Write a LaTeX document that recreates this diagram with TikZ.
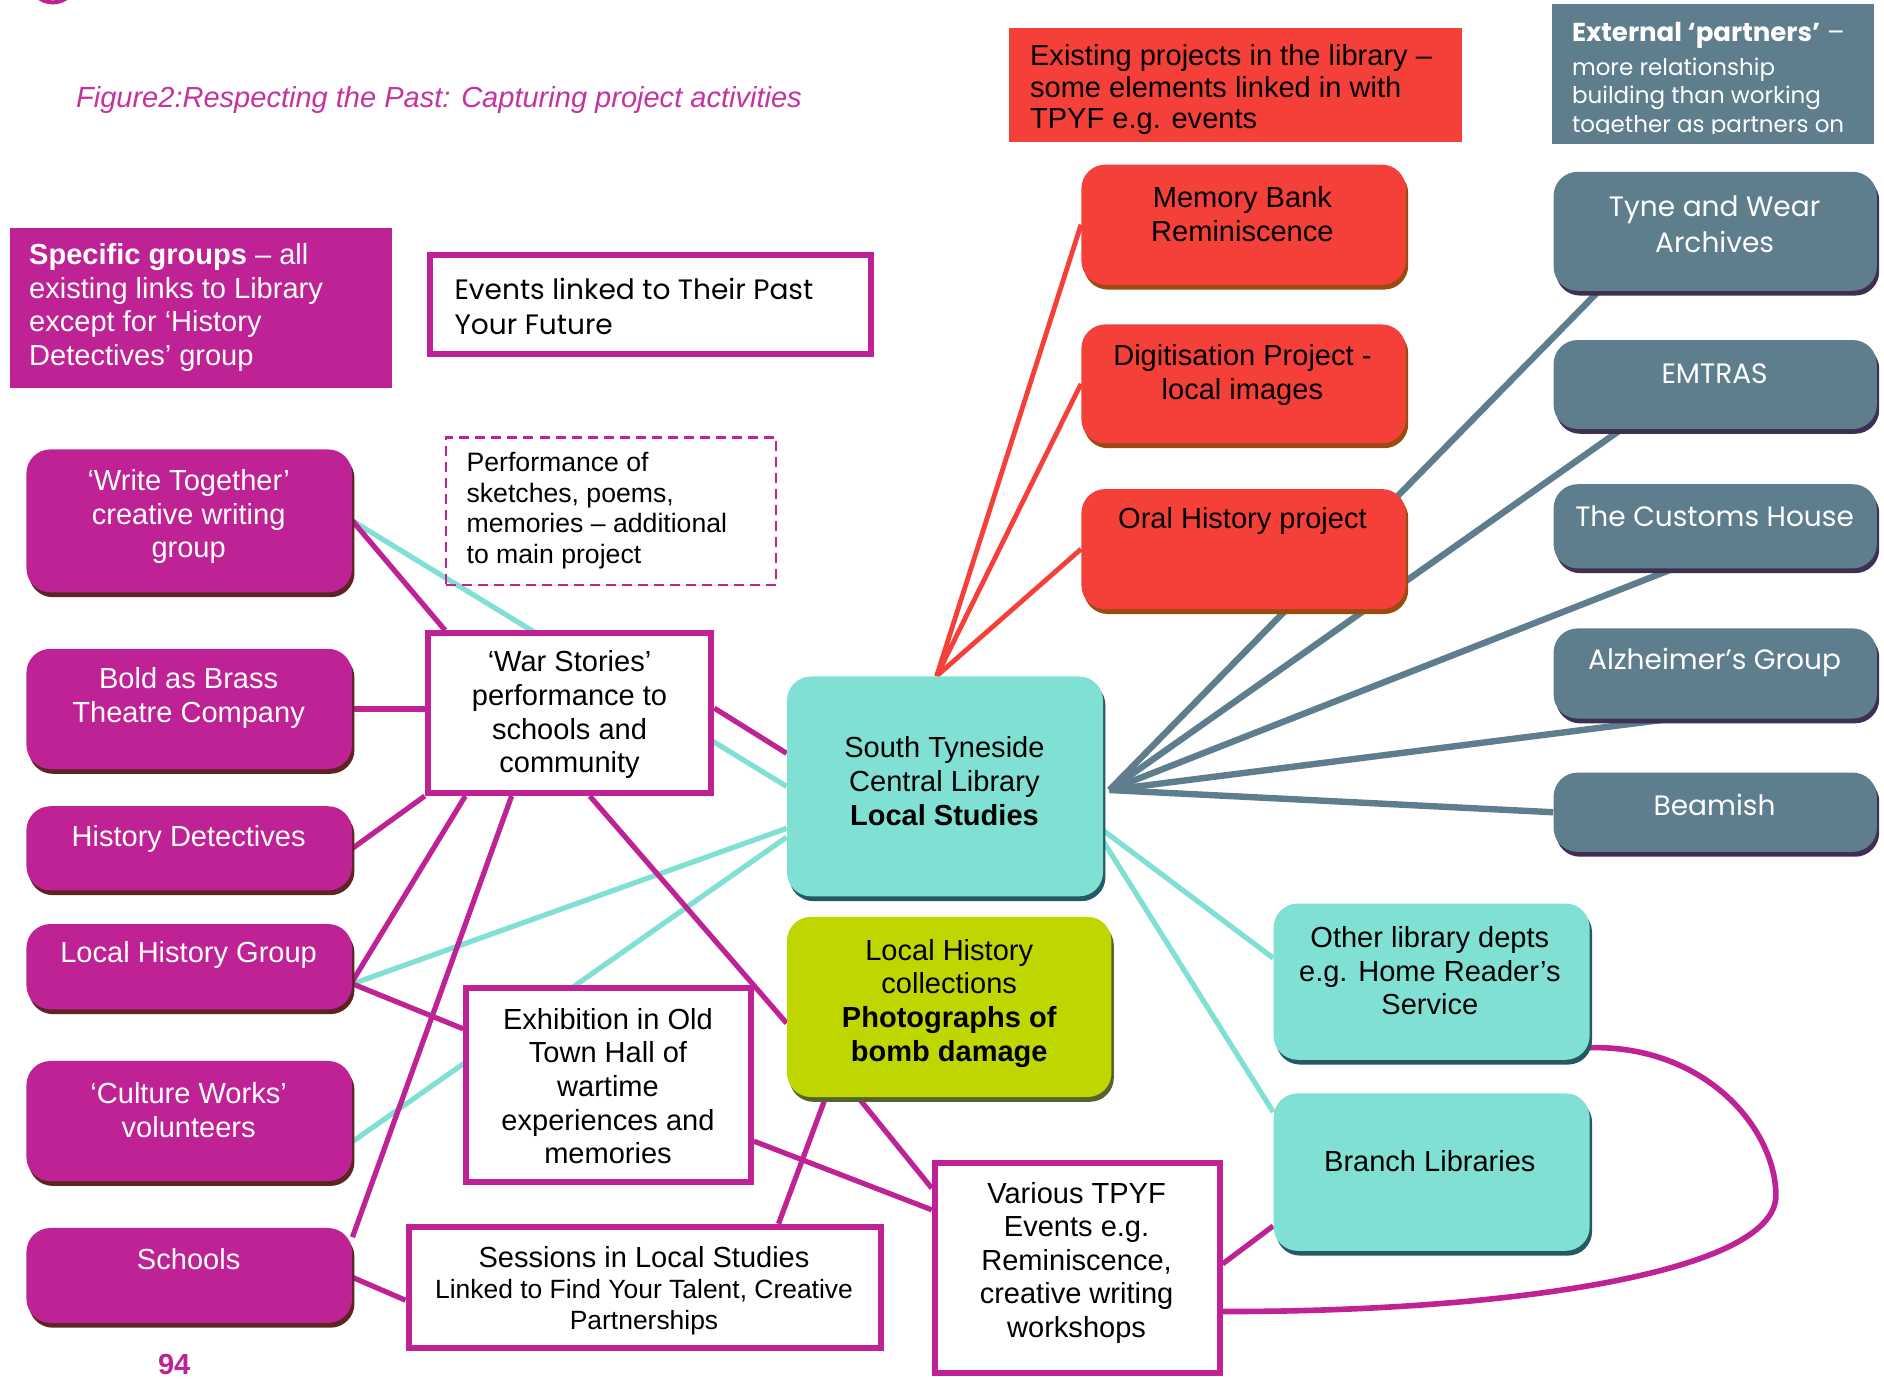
\documentclass[tikz,border=0pt]{standalone}
\usepackage{fontspec}
\setmainfont{Liberation Sans}
\newfontfamily\gothic{Poppins}
\usetikzlibrary{fit,calc,shadows,backgrounds}

\definecolor{magFill}{RGB}{191,34,148}
\definecolor{magShade}{RGB}{94,36,36}
\definecolor{titleMag}{RGB}{198,50,160}
\definecolor{redFill}{RGB}{245,64,58}
\definecolor{redShade}{RGB}{155,74,16}
\definecolor{greyFill}{RGB}{94,126,142}
\definecolor{greyShade}{RGB}{62,48,84}
\definecolor{tealFill}{RGB}{128,224,212}
\definecolor{tealShade}{RGB}{35,90,102}
\definecolor{limeFill}{RGB}{191,214,0}
\definecolor{limeShade}{RGB}{85,100,43}
\definecolor{dashRed}{RGB}{160,50,50}

\tikzset{
  rbox/.style={inner sep=0pt, rounded corners=12pt,
    drop shadow={shadow xshift=1.2pt, shadow yshift=-2.4pt, fill=#1, opacity=1}},
  magbox/.style={rbox=magShade, fill=magFill},
  redbox/.style={rbox=redShade, fill=redFill},
  greybox/.style={rbox=greyShade, fill=greyFill},
  tealbox/.style={rbox=tealShade, fill=tealFill},
  limebox/.style={rbox=limeShade, fill=limeFill},
  wbox/.style={inner sep=0pt, draw=magFill, line width=3pt, fill=white},
  lbl/.style={font=\fontsize{14.5}{16.8}\selectfont, align=center, inner sep=0pt},
  glbl/.style={font=\gothic\fontsize{14}{18}\selectfont, align=center, inner sep=0pt, text=white},
  magline/.style={magFill, line width=2.6pt},
  tealline/.style={tealFill, line width=2.6pt},
  greyline/.style={greyFill, line width=3.2pt},
  redline/.style={redFill, line width=2.4pt}
}

\begin{document}
\begin{tikzpicture}[x=0.6pt, y=-0.6pt]
\useasboundingbox (0,0) rectangle (1568,1147);
\draw[magFill, line width=2pt] (44,-18) circle (20);

\node[lbl, font=\fontsize{14.5}{16.8}\selectfont\itshape, text=titleMag, anchor=west] (title) at (63,83) {Figure2:Respecting the Past: Capturing project activities};

% headings
\node[fit={(8,190) (326,323)}, inner sep=0pt, fill=magFill] (spg) {};
\node[lbl, text=white, align=left, anchor=west] (spgT) at (24,256) {\textbf{Specific groups} – all\\existing links to Library\\except for ‘History\\Detectives’ group};
\node[fit={(840,23) (1217,118)}, inner sep=0pt, fill=redFill] (exist) {};
\node[lbl, font=\fontsize{14.5}{15.6}\selectfont, align=left, anchor=west] (existT) at (857,74.5) {Existing projects in the library –\\some elements linked in with\\TPYF e.g. events};
\node[fit={(1292,3) (1560,120)}, inner sep=0pt, fill=greyFill] (ext) {};
\begin{scope}
\clip (1292,3) rectangle (1560,111);
\node[glbl, font=\gothic\fontsize{11.5}{14.4}\selectfont, align=left, anchor=west] (extT) at (1308,67) {{\fontsize{13}{14.4}\selectfont\textbf{External ‘partners’} –}\\[2.4pt]more relationship\\building than working\\together as partners on};
\end{scope}
\node[fit={(358,212) (725,295)}, wbox] (evt) {};
\node[glbl, font=\gothic\fontsize{14}{17.4}\selectfont, text=black, align=left, anchor=west] (evtT) at (378,255) {Events linked to Their Past\\Your Future};

% groups
\node[fit={(22,374) (293,493)}, magbox] (wt) {};
\node[lbl, text=white] (wtT) at (157,430) {‘Write Together’\\creative writing\\group};
\node[fit={(22,540) (293,640)}, magbox] (bab) {};
\node[lbl, text=white] (babT) at (157,581) {Bold as Brass\\Theatre Company};
\node[fit={(22,671) (293,741)}, magbox] (hd) {};
\node[lbl, text=white] (hdT) at (157,698) {History Detectives};
\node[fit={(22,769) (293,840)}, magbox] (lhg) {};
\node[lbl, text=white] (lhgT) at (157,795) {Local History Group};
\node[fit={(22,883) (293,983)}, magbox] (cw) {};
\node[lbl, text=white] (cwT) at (157,924) {‘Culture Works’\\volunteers};
\node[fit={(22,1022) (293,1101)}, magbox] (sch) {};
\node[lbl, text=white] (schT) at (157,1048) {Schools};
\node[lbl, font=\fontsize{14.5}{16.8}\selectfont\bfseries, text=magFill] (page) at (145,1136) {94};

% library projects
\node[fit={(900,137) (1170,237)}, redbox] (mem) {};
\node[lbl] (memT) at (1034,178) {Memory Bank\\Reminiscence};
\node[fit={(900,270) (1170,369)}, redbox] (dig) {};
\node[lbl] (digT) at (1034,312) {Digitisation Project -\\local images};
\node[fit={(900,407) (1170,507)}, redbox] (oral) {};
\node[lbl] (oralT) at (1034,434) {Oral History project};

% partners
\node[fit={(1293,143) (1562,242)}, greybox] (tw) {};
\node[glbl] (twT) at (1427,187) {Tyne and Wear\\Archives};
\node[fit={(1293,283) (1562,357)}, greybox] (emt) {};
\node[glbl] (emtT) at (1427,311) {EMTRAS};
\node[fit={(1293,403) (1562,473)}, greybox] (cus) {};
\node[glbl] (cusT) at (1427,430) {The Customs House};
\node[fit={(1293,523) (1562,598)}, greybox] (alz) {};
\node[glbl] (alzT) at (1427,551) {Alzheimer’s Group};
\node[fit={(1293,643) (1562,709)}, greybox] (bea) {};
\node[glbl] (beaT) at (1427,670) {Beamish};

% library
\node[fit={(655,563) (918,746)}, tealbox] (lib) {};
\node[lbl] (libT) at (786,650) {South Tyneside\\Central Library\\\textbf{Local Studies}};
\node[fit={(655,763) (925,913)}, limebox] (lhc) {};
\node[lbl] (lhcT) at (790,835) {Local History\\collections\\\textbf{Photographs of}\\\textbf{bomb damage}};
\node[fit={(1060,752) (1323,882)}, tealbox] (old) {};
\node[lbl] (oldT) at (1190,808) {Other library depts\\e.g. Home Reader’s\\Service};
\node[fit={(1060,910) (1323,1041)}, tealbox] (bra) {};
\node[lbl] (braT) at (1190,966) {Branch Libraries};
\coordinate (hub) at ($(lib.east)+(5,3)$);
\coordinate (apex) at ($(lib.north)+(-7,0)$);

% activities
\node[fit={(371,364) (646,487)}, inner sep=0pt, draw=magFill, line width=1.2pt, dash pattern=on 5pt off 3pt] (perf) {};
\node[lbl, font=\fontsize{13.3}{15.3}\selectfont, align=left, anchor=west] (perfT) at (388,425) {Performance of\\sketches, poems,\\memories – additional\\to main project};
\node[fit={(356,527) (592,660)}, wbox] (war) {};
\node[lbl] (warT) at (474,595) {‘War Stories’\\performance to\\schools and\\community};
\node[fit={(388,822) (625,984)}, wbox] (exh) {};
\node[lbl] (exhT) at (506,904) {Exhibition in Old\\Town Hall of\\wartime\\experiences and\\memories};
\node[fit={(340,1021) (733,1122)}, wbox] (ses) {};
\node[lbl, font=\fontsize{13.2}{15.6}\selectfont] (sesT) at (536,1074) {{\fontsize{14.5}{15.6}\selectfont Sessions in Local Studies}\\Linked to Find Your Talent, Creative\\Partnerships};
\node[fit={(778,968) (1015,1143)}, wbox] (var) {};
\node[lbl] (varT) at (896,1051) {Various TPYF\\Events e.g.\\Reminiscence,\\creative writing\\workshops};

\begin{scope}[on background layer]
\fill[white] (0,0) rectangle (1568,1147);
\draw[redline] (apex) -- (mem.west);
\draw[redline] (apex) -- (dig.west);
\draw[redline] (apex) -- (oral.west);
\draw[greyline] (hub) -- ($(tw.south west)!0.14!(tw.south east)$);
\draw[greyline] (hub) -- ($(emt.south west)!0.21!(emt.south east)$);
\draw[greyline] (hub) -- ($(cus.south west)!0.37!(cus.south east)$);
\draw[greyline] (hub) -- ($(alz.south west)!0.36!(alz.south east)$);
\draw[greyline] (hub) -- (bea.west);
\draw[tealline] (wt.east) -- (lib.west);
\draw[tealline] ($(lhg.north east)!0.7!(lhg.south east)$) -- ($(lib.north west)!0.69!(lib.south west)$);
\draw[tealline] ($(cw.north east)!0.67!(cw.south east)$) -- ($(lib.north west)!0.73!(lib.south west)$);
\draw[tealline] ($(lib.north east)!0.7!(lib.south east)$) -- ($(old.north west)!0.35!(old.south west)$);
\draw[tealline] ($(lib.north east)!0.75!(lib.south east)$) -- ($(bra.north west)!0.12!(bra.south west)$);
\draw[dashRed, line width=1.2pt, dash pattern=on 4pt off 2pt] ($(wt.north east)!0.4!(wt.south east)$) -- ($(wt.north east)!0.4!(wt.south east)$ -| perf.west);
\draw[magline] (wt.east) -- ($(war.north west)!0.07!(war.north east)$);
\draw[magline] (bab.east) -- (bab.east -| war.west);
\draw[magline] (hd.east) -- (war.south west);
\draw[magline] ($(lhg.north east)!0.67!(lhg.south east)$) -- ($(war.south west)!0.14!(war.south east)$);
\draw[magline] ($(sch.north east)!0.1!(sch.south east)$) -- ($(war.south west)!0.3!(war.south east)$);
\draw[magline] ($(war.north east)!0.47!(war.south east)$) -- ($(lib.north west)!0.35!(lib.south west)$);
\draw[magline] ($(war.south west)!0.57!(war.south east)$) -- ($(lhc.north west)!0.59!(lhc.south west)$);
\draw[magline] ($(lhg.north east)!0.7!(lhg.south east)$) -- ($(exh.north west)!0.22!(exh.south west)$);
\draw[magline] ($(cw.north east)!0.77!(cw.south east)$) -- ($(cw.north east)!0.77!(cw.south east)$ -| exh.west);
\draw[magline] ($(exh.north east)!0.78!(exh.south east)$) -- ($(var.north west)!0.23!(var.south west)$);
\draw[magline] ($(lhc.south west)!0.12!(lhc.south east)$) -- ($(ses.north west)!0.78!(ses.north east)$);
\draw[magline] ($(lhc.south west)!0.22!(lhc.south east)$) -- ($(var.north west)!0.13!(var.south west)$);
\draw[magline] ($(sch.north east)!0.52!(sch.south east)$) -- ($(ses.north west)!0.6!(ses.south west)$);
\draw[magline] ($(var.north east)!0.48!(var.south east)$) -- ($(bra.north west)!0.84!(bra.south west)$);
\draw[magline, line width=2.8pt] ($(old.north east)!0.92!(old.south east)$) .. controls (1420,870) and (1478,940) .. (1478,995) .. controls (1478,1060) and (1250,1092) .. ($(var.north east)!0.7!(var.south east)$);
\end{scope}
\end{tikzpicture}
\end{document}
